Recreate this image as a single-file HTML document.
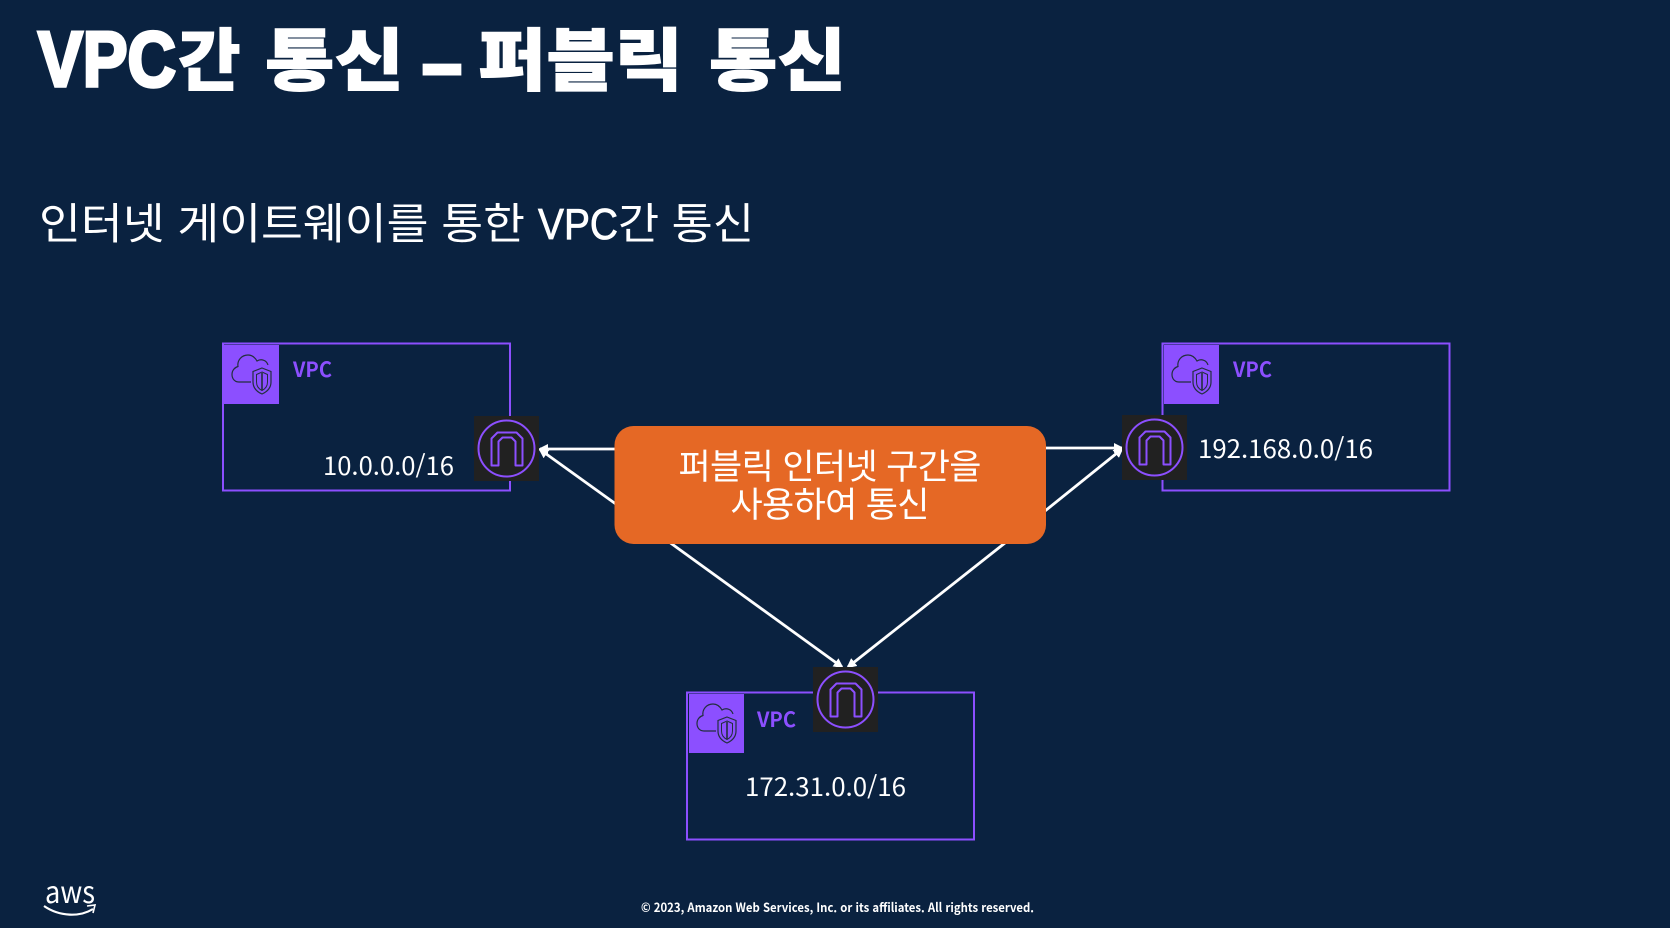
<!DOCTYPE html>
<html lang="ko">
<head>
<meta charset="utf-8">
<style>
html,body{margin:0;padding:0;background:#0a2240;width:1670px;height:928px;overflow:hidden}
svg{display:block}
text{font-family:"Liberation Sans","Noto Sans CJK KR",sans-serif}
.ko{font-family:"Noto Sans CJK KR","Liberation Sans",sans-serif}
</style>
</head>
<body>
<svg width="1670" height="928" viewBox="0 0 1670 928" xmlns="http://www.w3.org/2000/svg">
<defs>
<g id="vpcicon">
<rect x="0" y="0" width="55" height="59" fill="#8c4fff"/>
<path d="M27,37 H15 C10.500,37 8,33.500 8,29.500 C8,25.500 10.500,22.500 14,21.500 C13,15.500 17.500,10 24,10 C28,10 31,12.500 33,16 C37,13.500 42.500,15 44,20" fill="none" stroke="#232f3e" stroke-width="1.200"/>
<path d="M38,23 L47,26.500 V37 C47,43.500 42.500,47 38,49 C33.500,47 29,43.500 29,37 V26.500 Z" fill="none" stroke="#232f3e" stroke-width="1.200"/>
<path d="M38,27 L43.500,29.500 V37 C43.500,41.500 41,44 38,45.500 C35,44 32.500,41.500 32.500,37 V29.500 Z" fill="none" stroke="#232f3e" stroke-width="1"/>
<path d="M38,28 V45" fill="none" stroke="#232f3e" stroke-width="1.600"/>
</g>
<g id="igw">
<rect x="-32.500" y="-32.500" width="65" height="65" fill="#212121"/>
<circle cx="0" cy="0" r="28" fill="none" stroke="#8c4fff" stroke-width="2"/>
<path d="M-15,17 V-10 L-9,-16 H10 L16,-10 V17 H9 V-7 L5,-11 H-4 L-8,-7 V17 Z" fill="none" stroke="#8c4fff" stroke-width="2" stroke-linejoin="round"/>
</g>
<marker id="ah" markerWidth="10" markerHeight="10" refX="8" refY="5" orient="auto" markerUnits="userSpaceOnUse" viewBox="0 0 10 10">
<path d="M0,0 L10,5 L0,10 Z" fill="#fff"/>
</marker>
</defs>

<rect width="1670" height="928" fill="#0a2240"/>

<!-- Title -->
<g fill="#fff" stroke="#fff" stroke-width="1">
<text x="38" y="86" font-size="78" font-weight="700" stroke-width="3.500" textLength="138" lengthAdjust="spacingAndGlyphs">VPC</text>
<text class="ko" x="178" y="85" font-size="68" font-weight="900">간</text>
<text class="ko" x="265" y="85" font-size="68" font-weight="900" textLength="139" lengthAdjust="spacingAndGlyphs">통신</text>
<text x="423" y="88" font-size="70" font-weight="700" stroke-width="5" textLength="38" lengthAdjust="spacingAndGlyphs">–</text>
<text class="ko" x="478" y="85" font-size="68" font-weight="900" textLength="205" lengthAdjust="spacingAndGlyphs">퍼블릭</text>
<text class="ko" x="709" y="85" font-size="68" font-weight="900" textLength="137" lengthAdjust="spacingAndGlyphs">통신</text>
</g>

<!-- Subtitle -->
<text class="ko" x="39" y="239" font-size="43" fill="#fff" textLength="486" lengthAdjust="spacingAndGlyphs">인터넷 게이트웨이를 통한</text>
<text x="538" y="239" font-size="44" fill="#fff" stroke="#fff" stroke-width="0.800" textLength="80" lengthAdjust="spacingAndGlyphs">VPC</text>
<text class="ko" x="618" y="239" font-size="43" fill="#fff" textLength="136" lengthAdjust="spacingAndGlyphs">간 통신</text>

<!-- VPC boxes -->
<rect x="223" y="343.500" width="287" height="147" fill="none" stroke="#8c4fff" stroke-width="2"/>
<rect x="1162.500" y="343.500" width="287" height="147" fill="none" stroke="#8c4fff" stroke-width="2"/>
<rect x="687" y="692.500" width="287" height="147" fill="none" stroke="#8c4fff" stroke-width="2"/>

<use href="#vpcicon" x="224" y="345"/>
<use href="#vpcicon" x="1164" y="345"/>
<use href="#vpcicon" x="689" y="694"/>

<g fill="#8c4fff" font-size="21" font-weight="700">
<text class="ko" x="293" y="377" textLength="39" lengthAdjust="spacingAndGlyphs">VPC</text>
<text class="ko" x="1233" y="377" textLength="39" lengthAdjust="spacingAndGlyphs">VPC</text>
<text class="ko" x="757" y="727" textLength="39" lengthAdjust="spacingAndGlyphs">VPC</text>
</g>

<g fill="#fff" font-size="25">
<text class="ko" x="323" y="475" textLength="131" lengthAdjust="spacingAndGlyphs">10.0.0.0/16</text>
<text class="ko" x="1198" y="458" textLength="175" lengthAdjust="spacingAndGlyphs">192.168.0.0/16</text>
<text class="ko" x="745" y="796" textLength="161" lengthAdjust="spacingAndGlyphs">172.31.0.0/16</text>
</g>

<!-- Connectors -->
<g stroke="#fff" stroke-width="2.800" fill="none">
<line x1="620" y1="449" x2="540" y2="449" marker-end="url(#ah)"/>
<line x1="620" y1="507" x2="540" y2="449.500" marker-end="url(#ah)"/>
<line x1="1040" y1="448" x2="1122" y2="448" marker-end="url(#ah)"/>
<line x1="1040" y1="515" x2="1122" y2="449" marker-end="url(#ah)"/>
<line x1="665" y1="539" x2="842" y2="667" marker-end="url(#ah)"/>
<line x1="1010" y1="539" x2="848" y2="667" marker-end="url(#ah)"/>
</g>

<!-- Internet gateways -->
<use href="#igw" x="506.500" y="448.500"/>
<use href="#igw" x="1154.500" y="447.500"/>
<use href="#igw" x="845.500" y="699.500"/>

<!-- Orange box -->
<rect x="614.500" y="426" width="431.500" height="118" rx="19" ry="19" fill="#e56825"/>
<text class="ko" x="830" y="479" font-size="35" fill="#fff" text-anchor="middle" textLength="303" lengthAdjust="spacing">퍼블릭 인터넷 구간을</text>
<text class="ko" x="830" y="517" font-size="35" fill="#fff" text-anchor="middle" textLength="199" lengthAdjust="spacing">사용하여 통신</text>

<!-- AWS logo -->
<text class="ko" x="70" y="903" font-size="30" fill="#fff" text-anchor="middle" textLength="50" lengthAdjust="spacingAndGlyphs">aws</text>
<path d="M44,906 C60,917 80,917 93,909" fill="none" stroke="#fff" stroke-width="2.200"/>
<path d="M87,906 L95,905 L93,913" fill="none" stroke="#fff" stroke-width="1.600"/>

<!-- Footer -->
<text class="ko" x="641" y="912" font-size="12.500" font-weight="700" fill="#fff" textLength="393" lengthAdjust="spacingAndGlyphs">© 2023, Amazon Web Services, Inc. or its affiliates. All rights reserved.</text>
</svg>
</body>
</html>
